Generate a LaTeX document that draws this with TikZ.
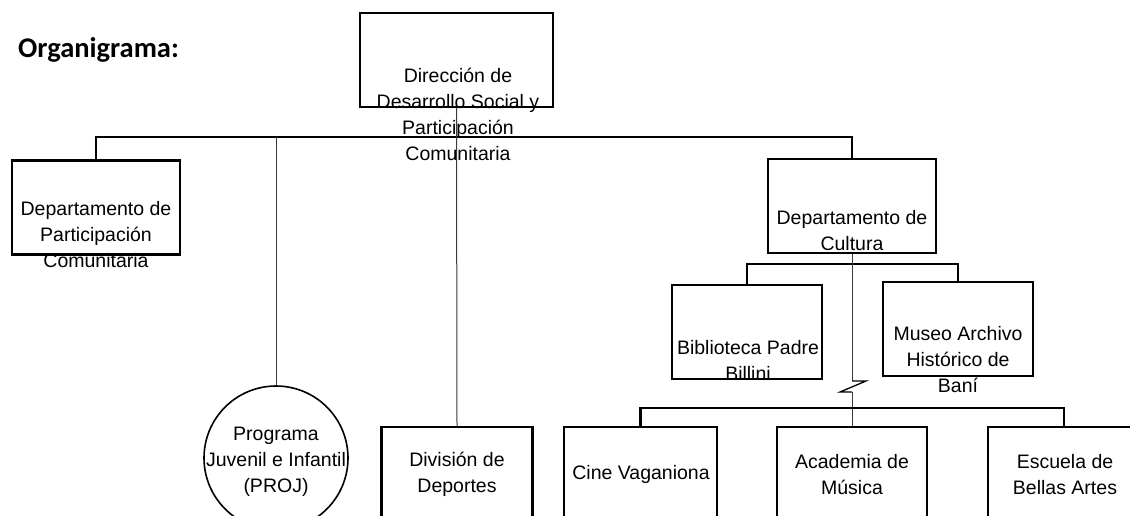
\documentclass[tikz,border=0pt]{standalone}
\usepackage{fontspec}
\setmainfont{Liberation Sans}
\newfontfamily\titulofont{Carlito}
\begin{document}
\begin{tikzpicture}
[x=1pt,y=-1pt,
 caja/.style={draw,line width=2.2pt,inner sep=0pt,minimum height=94pt},
 texto/.style={align=center,font=\fontsize{19.5}{26}\selectfont,inner sep=0pt},
 linea/.style={line width=2.2pt},
 fina/.style={line width=1pt,gray!45!black}]
\useasboundingbox (0,0) rectangle (1130,515);
\clip (0,0) rectangle (1130,515);
\node (titulo) [anchor=base west,inner sep=0pt,font=\titulofont\bfseries\fontsize{28.5}{32}\selectfont] at (18,57) {Organigrama:};
\node (raiz) [caja,minimum width=193pt] at (456.5,60) {}; % root
\node (hijo1) [caja,minimum width=168pt] at (96,207.5) {};
\node (hijo2) [draw,circle,line width=1.6pt,minimum size=144pt,inner sep=0pt] at (276,458) {};
\node (hijo3) [caja,minimum width=151pt] at (457,474) {};
\node (hijo4) [caja,minimum width=168pt] at (852,206) {};
\node (nieto1) [caja,minimum width=150pt] at (747,332) {};
\node (nieto2) [caja,minimum width=150pt] at (958,329) {};
\node (nieto3) [caja,minimum width=153pt] at (640.5,474) {};
\node (nieto4) [caja,minimum width=150pt] at (852,474) {};
\node (nieto5) [caja,minimum width=152pt] at (1064,474) {};

\node (traiz) [texto] at (458,114.5) {Dirección de\\Desarrollo Social y\\Participación\\Comunitaria};
\node (thijo1) [texto] at (96,235) {Departamento de\\Participación\\Comunitaria};
\node (thijo2) [texto] at (276,462) {Programa\\Juvenil e Infantil\\(PROJ)};
\node (thijo3) [texto] at (457,474.5) {División de\\Deportes};
\node (thijo4) [texto] at (852,230.5) {Departamento de\\Cultura};
\node (tnieto1) [texto] at (748,360) {Biblioteca Padre\\Billini};
\node (tnieto2) [texto] at (958,360) {Museo Archivo\\Histórico de\\Baní};
\node (tnieto3) [texto] at (641,474) {Cine Vaganiona};
\node (tnieto4) [texto] at (852,474.5) {Academia de\\Música};
\node (tnieto5) [texto] at (1065,474.5) {Escuela de\\Bellas Artes};

\coordinate (bus1) at (0,137);
\coordinate (bus2) at (0,264);
\coordinate (bus3) at (0,408);
\coordinate (corte) at (852,381);
\draw [linea] (hijo1.north) -- (hijo1.north |- bus1) -- (hijo4.north |- bus1) -- (hijo4.north);
\draw [fina] (raiz.south) -- (hijo3.north);
\draw [fina] (hijo2.north |- bus1) -- (hijo2.north);
\draw [linea] (nieto1.north) -- (nieto1.north |- bus2) -- (nieto2.north |- bus2) -- (nieto2.north);
\draw [fina] (hijo4.south) -- (corte);
\draw [line width=1.3pt] (corte) -- ++(14,0) -- ++(-26,11) -- ++(12,0);
\draw [fina] (corte) ++(0,11) -- (nieto4.north);
\draw [linea] (nieto3.north) -- (nieto3.north |- bus3) -- (nieto5.north |- bus3) -- (nieto5.north);
\end{tikzpicture}
\end{document}
